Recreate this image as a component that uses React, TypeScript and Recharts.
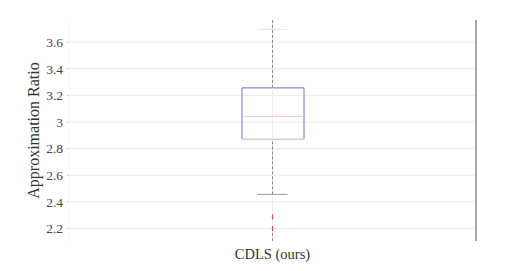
import { ComposedChart, Bar, Line, XAxis, YAxis, CartesianGrid, ReferenceLine } from "recharts";

// values
const categories = ["CDLS (ours)"];
const lowerQuartile = [2.871];
const medianValue = [3.042];
const upperQuartile = [3.256];
const lowerWhisker = [2.456];
const upperWhisker = [3.696];
const outlierA = [2.287];
const outlierB = [2.2];
const yTicks = [2.2, 2.4, 2.6, 2.8, 3, 3.2, 3.4, 3.6];
const yDomain = [2.106, 3.766];

const BOX_W = 62;
const CAP_W = 30;
const FONT = "'Liberation Serif', 'Times New Roman', serif";

const data = categories.map((name, i) => ({
  name,
  box: [lowerQuartile[i], upperQuartile[i]],
  q1: lowerQuartile[i],
  q3: upperQuartile[i],
  median: medianValue[i],
  lo: lowerWhisker[i],
  hi: upperWhisker[i],
  outA: outlierA[i],
  outB: outlierB[i],
}));

const BoxShape = (props: any) => {
  const { x, y, width, height } = props;
  return (
    <g>
      <line x1={x} y1={y} x2={x + width} y2={y} stroke="#6c6cc0" />
      <line x1={x} y1={y} x2={x} y2={y + height} stroke="#7575c4" />
      <line x1={x + width} y1={y} x2={x + width} y2={y + height} stroke="#7575c4" />
      <line x1={x} y1={y + height} x2={x + width} y2={y + height} stroke="#b5b5e0" />
    </g>
  );
};

const hLine = (w: number, color: string) => (props: any) => {
  const { cx, cy, index } = props;
  if (cx == null || cy == null) return <g key={index} />;
  return <line key={index} x1={cx - w / 2} y1={cy} x2={cx + w / 2} y2={cy} stroke={color} />;
};

const plusMark = (props: any) => {
  const { cx, cy, index } = props;
  if (cx == null || cy == null) return <g key={index} />;
  return (
    <g key={index}>
      <line x1={cx} y1={cy - 2.5} x2={cx} y2={cy + 2.5} stroke="#e0304a" />
      <line x1={cx - 1} y1={cy} x2={cx + 1} y2={cy} stroke="#f08090" />
    </g>
  );
};

export default function App() {
  const cat = categories[0];
  return (
    <div style={{ position: "absolute", left: 0, top: 0, background: "#fff" }}>
      <ComposedChart
        width={526}
        height={271}
        data={data}
        margin={{ top: 20, right: 50, bottom: 0, left: 0 }}
        barGap={0}
      >
        <CartesianGrid stroke="#ececec" vertical={false} syncWithTicks yAxisId="left" />
        <XAxis
          dataKey="name"
          axisLine={false}
          tickLine={false}
          tickSize={0}
          tickMargin={8}
          height={30}
          tick={{ fill: "#333", fontSize: 14.5, fontFamily: FONT }}
        />
        <YAxis
          yAxisId="left"
          domain={yDomain}
          ticks={yTicks}
          allowDataOverflow
          width={69}
          axisLine={{ stroke: "#f8f8f8" }}
          tickSize={2}
          tickMargin={4}
          tickLine={{ stroke: "#c8c8c8" }}
          tick={{ fill: "#444", fontSize: 13.5, fontFamily: FONT }}
          label={{
            value: "Approximation Ratio",
            angle: -90,
            position: "insideLeft",
            offset: 33,
            style: { fill: "#333", fontSize: 16, fontFamily: FONT, textAnchor: "middle" },
          }}
        />
        <YAxis
          yAxisId="right"
          orientation="right"
          domain={yDomain}
          ticks={yTicks}
          allowDataOverflow
          mirror
          width={1}
          tick={false}
          tickSize={3}
          axisLine={{ stroke: "#555" }}
          tickLine={{ stroke: "#666" }}
        />
        <ReferenceLine yAxisId="left" x={cat} stroke="#ececec" />
        <ReferenceLine
          yAxisId="left"
          segment={[{ x: cat, y: data[0].q3 }, { x: cat, y: yDomain[1] }]}
          stroke="#8a8a8a"
          strokeDasharray="3 2"
        />
        <ReferenceLine
          yAxisId="left"
          segment={[{ x: cat, y: data[0].lo }, { x: cat, y: data[0].q1 }]}
          stroke="#8a8a8a"
          strokeDasharray="3 2"
        />
        <ReferenceLine
          yAxisId="left"
          segment={[{ x: cat, y: yDomain[0] }, { x: cat, y: 2.17 }]}
          stroke="#8a8a8a"
          strokeDasharray="3 2"
        />
        <Bar yAxisId="left" dataKey="box" barSize={BOX_W} shape={BoxShape} isAnimationActive={false} />
        <Line yAxisId="left" dataKey="median" stroke="none" dot={hLine(BOX_W, "#ffc4cc")} activeDot={false} isAnimationActive={false} />
        <Line yAxisId="left" dataKey="lo" stroke="none" dot={hLine(CAP_W, "#9a9a9a")} activeDot={false} isAnimationActive={false} />
        <Line yAxisId="left" dataKey="hi" stroke="none" dot={hLine(CAP_W, "#e4e4e4")} activeDot={false} isAnimationActive={false} />
        <Line yAxisId="left" dataKey="outA" stroke="none" dot={plusMark} activeDot={false} isAnimationActive={false} />
        <Line yAxisId="left" dataKey="outB" stroke="none" dot={plusMark} activeDot={false} isAnimationActive={false} />
      </ComposedChart>
    </div>
  );
}
